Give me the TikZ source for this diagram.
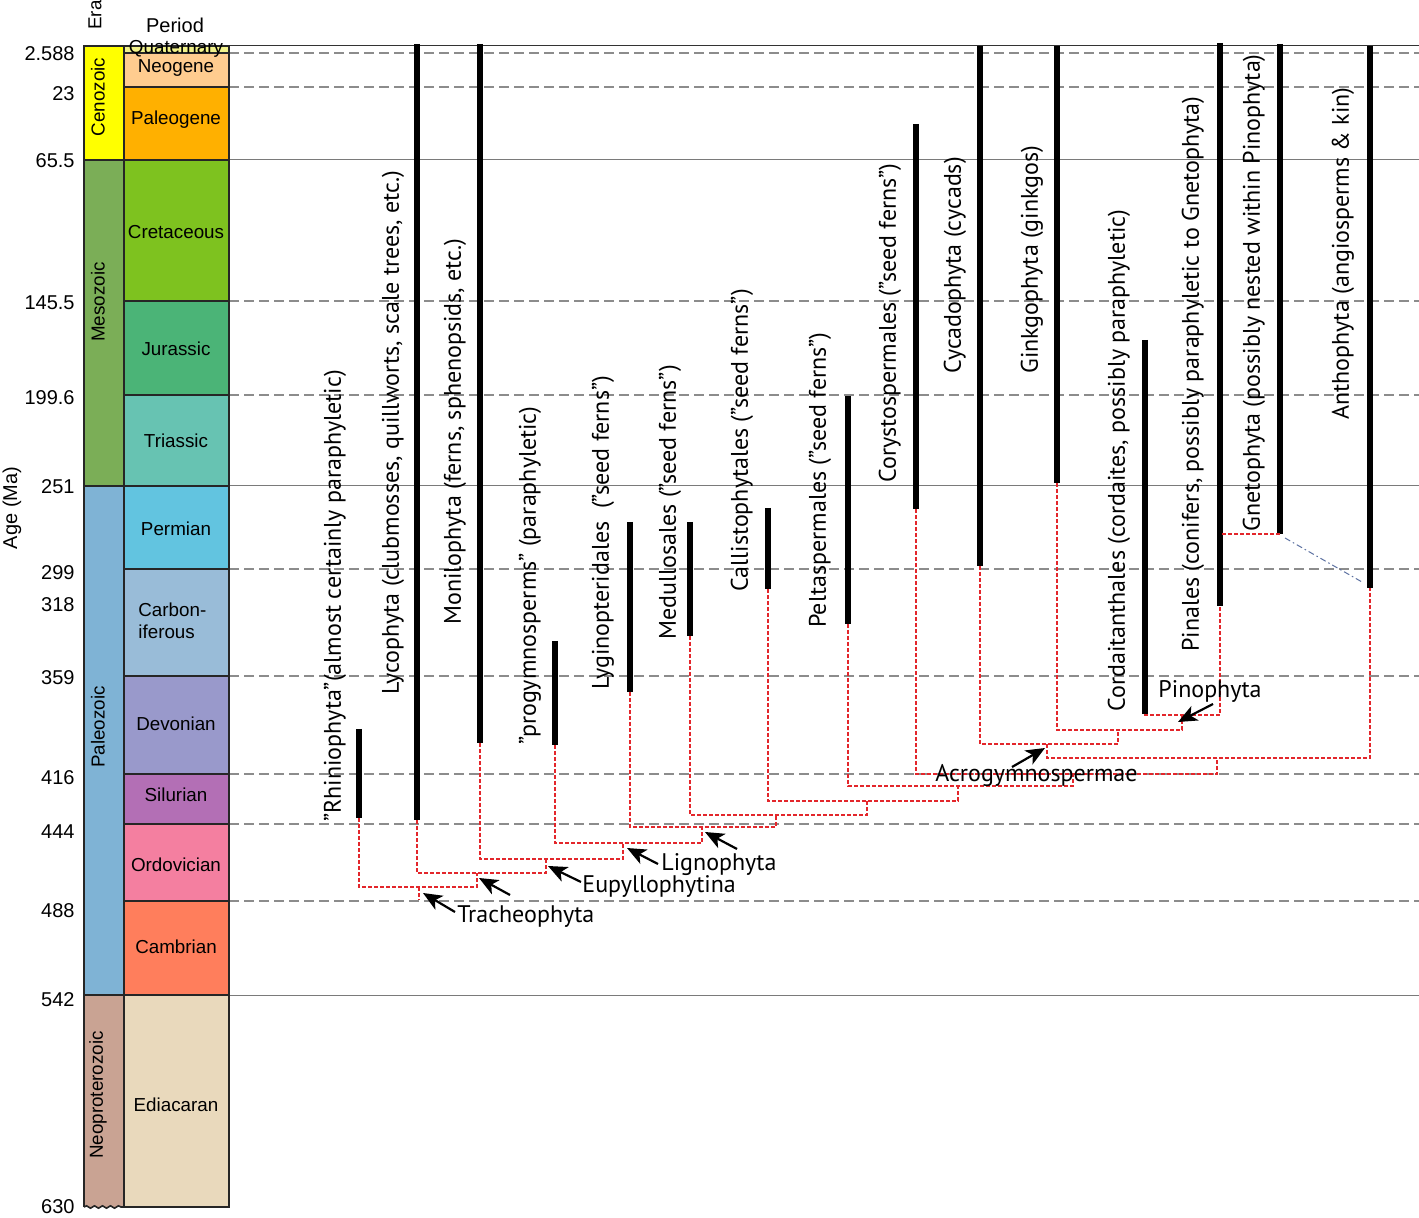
\documentclass[tikz,border=0pt]{standalone}
\usepackage{fontspec}
\usetikzlibrary{arrows.meta,decorations.pathmorphing}
\newfontfamily\tsfont{Liberation Sans}
\newfontfamily\trfont{PT Sans}
\definecolor{cenoz}{HTML}{FFFF00}
\definecolor{mesoz}{HTML}{7BAE57}
\definecolor{paleoz}{HTML}{7FB3D5}
\definecolor{neopr}{HTML}{C9A393}
\definecolor{quat}{HTML}{F2F28A}
\definecolor{neog}{HTML}{FFCC8F}
\definecolor{paleog}{HTML}{FFB000}
\definecolor{creta}{HTML}{7EC21F}
\definecolor{jura}{HTML}{4BB477}
\definecolor{trias}{HTML}{67C3B2}
\definecolor{perm}{HTML}{62C4E0}
\definecolor{carb}{HTML}{99BCD8}
\definecolor{devo}{HTML}{9999CB}
\definecolor{silu}{HTML}{B36FB5}
\definecolor{ordo}{HTML}{F47FA0}
\definecolor{camb}{HTML}{FF7E5C}
\definecolor{edia}{HTML}{E9D9BC}
\definecolor{cladered}{HTML}{E3262B}
\definecolor{gridgray}{HTML}{7A7A7A}
\definecolor{dashgray}{HTML}{8C8C8C}
\definecolor{linkblue}{HTML}{5A6FA0}
\begin{document}
\begin{tikzpicture}[x=0.5pt,y=-0.5pt,
  taxbar/.style={line width=3pt,black},
  clade/.style={cladered,line width=0.6pt,dash pattern=on 2pt off 1pt},
  gsolid/.style={gridgray,line width=0.5pt},
  gdash/.style={dashgray,line width=0.6pt,dash pattern=on 5pt off 2.5pt},
  taxlab/.style={rotate=90,anchor=west,inner sep=0pt,font=\trfont\fontsize{12}{14}\selectfont},
  cladelab/.style={anchor=west,inner sep=0pt,font=\trfont\fontsize{12}{14}\selectfont},
  arr/.style={-{Stealth[length=9.5pt,width=8pt,inset=2.5pt]},line width=1.1pt,black},
  ebox/.style={draw=black!85,line width=0.8pt},
  perlab/.style={inner sep=0pt,font=\tsfont\fontsize{9.4}{11}\selectfont},
  eralab/.style={rotate=90,inner sep=0pt,font=\tsfont\fontsize{9.4}{11}\selectfont},
  agelab/.style={anchor=east,inner sep=0pt,font=\tsfont\fontsize{10}{12}\selectfont},
  linkdash/.style={linkblue,line width=0.5pt,dash pattern=on 3pt off 1.5pt on 0.8pt off 1.5pt}
]
\useasboundingbox (0,0) rectangle (1419,1218);

% ---------- horizontal time lines ----------
\draw[gsolid,black!80] (229,46) -- (1419,46);
\draw[gdash] (229,53) -- (1419,53);
\draw[gdash] (229,87) -- (1419,87);
\draw[gsolid] (229,160) -- (1419,160);
\draw[gdash] (229,301) -- (1419,301);
\draw[gdash] (229,395) -- (1419,395);
\draw[gsolid] (229,486) -- (1419,486);
\draw[gdash] (229,569) -- (1419,569);
\draw[gdash] (229,676) -- (1419,676);
\draw[gdash] (229,774) -- (1419,774);
\draw[gdash] (229,824) -- (1419,824);
\draw[gdash] (229,901) -- (1419,901);
\draw[gsolid] (229,995) -- (1419,995);

% ---------- era column ----------
\fill[cenoz] (84,46) rectangle (124,160);
\fill[mesoz] (84,160) rectangle (124,486);
\fill[paleoz] (84,486) rectangle (124,995);
\fill[neopr] (84,995) rectangle (124,1207);
\draw[ebox] (84,46) rectangle (124,160);
\draw[ebox] (84,160) rectangle (124,486);
\draw[ebox] (84,486) rectangle (124,995);
\draw[ebox] (84,1207) -- (84,995) -- (124,995) -- (124,1207);
\draw[black!85,line width=0.8pt,decorate,decoration={snake,amplitude=0.6pt,segment length=4pt}] (84,1207) -- (124,1207);

% ---------- period column ----------
\foreach \ya/\yb/\col in {46/53/quat,53/87/neog,87/160/paleog,160/301/creta,301/395/jura,395/486/trias,486/569/perm,569/676/carb,676/774/devo,774/824/silu,824/901/ordo,901/995/camb,995/1207/edia}{
  \fill[\col] (124,\ya) rectangle (229,\yb);
  \draw[ebox] (124,\ya) rectangle (229,\yb);
}

% ---------- headers ----------
\node[eralab,anchor=center] (hEra) at (95,15) {Era};
\node[perlab,font=\tsfont\fontsize{10}{12}\selectfont] (hPer) at (175,25) {Period};
\node[eralab,font=\tsfont\fontsize{10}{12}\selectfont] (hAge) at (12,508) {Age (Ma)};

% ---------- era labels ----------
\node[eralab] (eCen) at (98,97) {Cenozoic};
\node[eralab] (eMes) at (98,302) {Mesozoic};
\node[eralab] (ePal) at (98,727) {Paleozoic};
\node[eralab] (eNeo) at (98,1095) {Neoproterozoic};

% ---------- period labels ----------
\node[perlab] (pQua) at (176,49) {Quaternary};
\node[perlab] (pNeo) at (176,68) {Neogene};
\node[perlab] (pPag) at (176,120) {Paleogene};
\node[perlab] (pCre) at (176,232) {Cretaceous};
\node[perlab] (pJur) at (176,349) {Jurassic};
\node[perlab] (pTri) at (176,441) {Triassic};
\node[perlab] (pPer) at (176,529) {Permian};
\node[perlab,anchor=west,align=left] (pCar) at (138,621) {Carbon-\\iferous};
\node[perlab] (pDev) at (176,724) {Devonian};
\node[perlab] (pSil) at (176,795) {Silurian};
\node[perlab] (pOrd) at (176,865) {Ordovician};
\node[perlab] (pCam) at (176,947) {Cambrian};
\node[perlab] (pEdi) at (176,1105) {Ediacaran};

% ---------- age labels ----------
\node[agelab] (a1) at (75,54) {2.588};
\node[agelab] (a2) at (75,94) {23};
\node[agelab] (a3) at (75,161) {65.5};
\node[agelab] (a4) at (75,303) {145.5};
\node[agelab] (a5) at (75,398) {199.6};
\node[agelab] (a6) at (75,487) {251};
\node[agelab] (a7) at (75,573) {299};
\node[agelab] (a8) at (75,605) {318};
\node[agelab] (a9) at (75,678) {359};
\node[agelab] (a10) at (75,778) {416};
\node[agelab] (a11) at (75,832) {444};
\node[agelab] (a12) at (75,911) {488};
\node[agelab] (a13) at (75,1000) {542};
\node[agelab] (a14) at (75,1207) {630};

% ---------- taxon range bars ----------
\coordinate (rhT) at (359,729);  \coordinate (rhB) at (359,818);
\coordinate (lyT) at (417,44);   \coordinate (lyB) at (417,820);
\coordinate (moT) at (480,44);   \coordinate (moB) at (480,743);
\coordinate (prT) at (555,641);  \coordinate (prB) at (555,745);
\coordinate (lgT) at (630,522);  \coordinate (lgB) at (630,692);
\coordinate (meT) at (690,522);  \coordinate (meB) at (690,636);
\coordinate (caT) at (768,508);  \coordinate (caB) at (768,589);
\coordinate (peT) at (848,396);  \coordinate (peB) at (848,624);
\coordinate (coT) at (916,124);  \coordinate (coB) at (916,509);
\coordinate (cyT) at (980,46);   \coordinate (cyB) at (980,566);
\coordinate (giT) at (1057,46);  \coordinate (giB) at (1057,483);
\coordinate (cdT) at (1145,340); \coordinate (cdB) at (1145,714);
\coordinate (piT) at (1220,43);  \coordinate (piB) at (1220,606);
\coordinate (gnT) at (1280,44);  \coordinate (gnB) at (1280,534);
\coordinate (anT) at (1370,46);  \coordinate (anB) at (1370,588);
\foreach \t in {rh,ly,mo,pr,lg,me,ca,pe,co,cy,gi,cd,pi,gn,an}{
  \draw[taxbar] (\t T) -- (\t B);
}

% ---------- taxon labels ----------
\node[taxlab] (lRh) at (335,822) {”Rhiniophyta”(almost certainly paraphyletic)};
\node[taxlab] (lLy) at (393,695) {Lycophyta (clubmosses, quillworts, scale trees, etc.)};
\node[taxlab] (lMo) at (455,625) {Monilophyta (ferns, sphenopsids, etc.)};
\node[taxlab] (lPr) at (530,745) {”progymnosperms” (paraphyletic)};
\node[taxlab] (lLg) at (603,690) {Lyginopteridales\ \ (”seed ferns”)};
\node[taxlab] (lMe) at (670,640) {Medullosales (”seed ferns”)};
\node[taxlab] (lCa) at (742,592) {Callistophytales (”seed ferns”)};
\node[taxlab] (lPe) at (820,628) {Peltaspermales (”seed ferns”)};
\node[taxlab] (lCo) at (890,483) {Corystospermales (”seed ferns”)};
\node[taxlab] (lCy) at (955,374) {Cycadophyta (cycads)};
\node[taxlab] (lGi) at (1032,374) {Ginkgophyta (ginkgos)};
\node[taxlab] (lCd) at (1119,712) {Cordaitanthales (cordaites, possibly paraphyletic)};
\node[taxlab] (lPi) at (1193,652) {Pinales (conifers, possibly paraphyletic to Gnetophyta)};
\node[taxlab] (lGn) at (1254,532) {Gnetophyta (possibly nested within Pinophyta)};
\node[taxlab] (lAn) at (1343,420) {Anthophyta (angiosperms \& kin)};

% ---------- clade nodes ----------
\coordinate (nT) at (419,887);
\coordinate (nTr) at (419,900);
\coordinate (n2) at (477,873);
\coordinate (n3) at (546,859);
\coordinate (n4) at (623,843);
\coordinate (n5) at (702,827);
\coordinate (n6) at (776,815);
\coordinate (n7) at (867,801);
\coordinate (n8) at (958,786);
\coordinate (n9) at (1073,774);
\coordinate (n10) at (1217,758);
\coordinate (n11) at (1047,744);
\coordinate (n12) at (1118,730);
\coordinate (n13) at (1182,715);
\coordinate (piG) at (1222,534);

\draw[clade] (nT) -- (nTr);
\draw[clade] (rhB) |- (nT) -| (n2);
\draw[clade] (lyB) |- (n2) -| (n3);
\draw[clade] (moB) |- (n3) -| (n4);
\draw[clade] (prB) |- (n4) -| (n5);
\draw[clade] (lgB) |- (n5) -| (n6);
\draw[clade] (meB) |- (n6) -| (n7);
\draw[clade] (caB) |- (n7) -| (n8);
\draw[clade] (peB) |- (n8) -| (n9);
\draw[clade] (coB) |- (n9) -| (n10);
\draw[clade] (n11) |- (n10) -| (anB);
\draw[clade] (cyB) |- (n11) -| (n12);
\draw[clade] (giB) |- (n12) -| (n13);
\draw[clade] (cdB) |- (n13) -| (piB);
\draw[clade] (piG) -- (gnB);

\coordinate (lkA) at (1285,538);
\coordinate (lkB) at (1362,582);
\draw[linkdash] (lkA) -- (lkB);

% ---------- clade labels and arrows ----------
\node[cladelab] (cTra) at (457,917) {Tracheophyta};
\node[cladelab] (cEup) at (582,886) {Eupyllophytina};
\node[cladelab] (cLig) at (661,865) {Lignophyta};
\node[cladelab] (cAcr) at (935,776) {Acrogymnospermae};
\node[cladelab] (cPin) at (1158,691) {Pinophyta};

\coordinate (aTs) at (455,912);  \coordinate (aTe) at (423,893);
\coordinate (aUs) at (510,895);  \coordinate (aUe) at (479,878);
\coordinate (aEs) at (581,882);  \coordinate (aEe) at (548,866);
\coordinate (aLs) at (658,864);  \coordinate (aLe) at (627,848);
\coordinate (aSs) at (737,849);  \coordinate (aSe) at (705,832);
\coordinate (aAs) at (1012,767); \coordinate (aAe) at (1045,748);
\coordinate (aPs) at (1213,704); \coordinate (aPe) at (1178,722);
\foreach \a in {aT,aU,aE,aL,aS,aA,aP}{
  \draw[arr] (\a s) -- (\a e);
}
\end{tikzpicture}
\end{document}
